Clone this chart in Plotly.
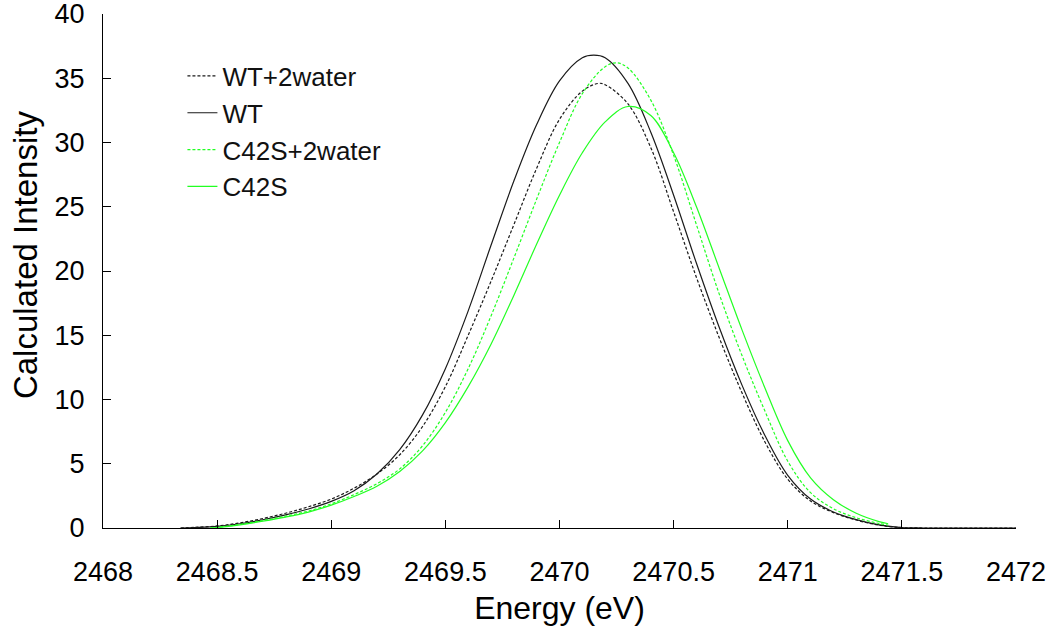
import plotly.graph_objects as go

# ---- data ----
wt_x = [2468.34, 2468.4, 2468.5, 2468.6, 2468.7, 2468.8, 2468.9, 2469.0, 2469.1, 2469.2,
        2469.3, 2469.4, 2469.5, 2469.6, 2469.7, 2469.8, 2469.9, 2470.0, 2470.1, 2470.15,
        2470.2, 2470.3, 2470.4, 2470.5, 2470.6, 2470.7, 2470.8, 2470.9, 2471.0, 2471.1,
        2471.2, 2471.3, 2471.4, 2471.5, 2471.6, 2472.0]
wt_y = [0.0, 0.04, 0.13, 0.33, 0.64, 1.02, 1.48, 2.07, 2.9, 4.2,
        6.1, 8.8, 12.4, 16.9, 22.0, 27.0, 31.4, 34.8, 36.6, 36.8,
        36.6, 34.6, 30.8, 25.9, 20.6, 15.6, 11.1, 7.2, 4.1, 2.25,
        1.25, 0.65, 0.24, 0.03, 0.0, 0.0]

wt2w_x = [2468.34, 2468.4, 2468.5, 2468.6, 2468.7, 2468.8, 2468.9, 2469.0, 2469.1, 2469.2,
          2469.3, 2469.4, 2469.5, 2469.6, 2469.7, 2469.8, 2469.9, 2470.0, 2470.1, 2470.17,
          2470.2, 2470.3, 2470.4, 2470.5, 2470.6, 2470.7, 2470.8, 2470.9, 2471.0, 2471.1,
          2471.2, 2471.3, 2471.4, 2471.5, 2471.6, 2472.0]
wt2w_y = [0.0, 0.05, 0.16, 0.40, 0.74, 1.15, 1.65, 2.25, 3.1, 4.2,
          5.7, 7.9, 11.0, 15.0, 19.2, 23.6, 28.0, 31.8, 34.0, 34.6,
          34.5, 33.0, 29.6, 24.6, 19.5, 14.8, 10.5, 6.7, 3.8, 2.1,
          1.2, 0.62, 0.22, 0.03, 0.0, 0.0]

c42s2w_x = [2468.47, 2468.5, 2468.6, 2468.7, 2468.8, 2468.9, 2469.0, 2469.1, 2469.2, 2469.3,
            2469.4, 2469.5, 2469.6, 2469.7, 2469.8, 2469.9, 2470.0, 2470.1, 2470.2, 2470.25,
            2470.3, 2470.4, 2470.5, 2470.6, 2470.7, 2470.8, 2470.9, 2471.0, 2471.1, 2471.2,
            2471.3, 2471.4, 2471.44]
c42s2w_y = [0.0, 0.05, 0.28, 0.58, 0.92, 1.32, 1.88, 2.6, 3.45, 4.6,
            6.4, 9.0, 12.4, 16.5, 21.0, 25.6, 30.0, 33.8, 35.9, 36.2,
            35.8, 33.3, 29.0, 23.6, 18.2, 13.4, 9.1, 5.2, 2.75, 1.5,
            0.8, 0.35, 0.23]

c42s_x = [2468.47, 2468.5, 2468.6, 2468.7, 2468.8, 2468.9, 2469.0, 2469.1, 2469.2, 2469.3,
          2469.4, 2469.5, 2469.6, 2469.7, 2469.8, 2469.9, 2470.0, 2470.1, 2470.2, 2470.3,
          2470.4, 2470.5, 2470.6, 2470.7, 2470.8, 2470.9, 2471.0, 2471.1, 2471.2, 2471.3,
          2471.4, 2471.44]
c42s_y = [0.0, 0.04, 0.25, 0.53, 0.85, 1.24, 1.78, 2.45, 3.25, 4.4,
          6.0, 8.2, 11.0, 14.3, 18.1, 22.1, 25.9, 29.2, 31.6, 32.8,
          32.1, 29.2, 25.0, 20.2, 15.4, 10.9, 6.8, 3.9, 2.2, 1.15,
          0.5, 0.33]

x_ticks = [2468, 2468.5, 2469, 2469.5, 2470, 2470.5, 2471, 2471.5, 2472]
x_tick_text = ["2468", "2468.5", "2469", "2469.5", "2470", "2470.5", "2471", "2471.5", "2472"]
y_ticks = [0, 5, 10, 15, 20, 25, 30, 35, 40]

FONT = "Liberation Sans, Arial, sans-serif"
BLACK = "#1a1a1a"
GREEN = "#22ff22"
DOT = "3px,2px"
LINE_SHAPE = dict(shape="spline", smoothing=1.0)

fig = go.Figure()
fig.add_trace(go.Scatter(x=wt2w_x, y=wt2w_y, mode="lines", name="WT+2water",
                         line=dict(color=BLACK, width=1.2, dash=DOT, **LINE_SHAPE)))
fig.add_trace(go.Scatter(x=wt_x, y=wt_y, mode="lines", name="WT",
                         line=dict(color=BLACK, width=1.2, **LINE_SHAPE)))
fig.add_trace(go.Scatter(x=c42s2w_x, y=c42s2w_y, mode="lines", name="C42S+2water",
                         line=dict(color=GREEN, width=1.2, dash=DOT, **LINE_SHAPE)))
fig.add_trace(go.Scatter(x=c42s_x, y=c42s_y, mode="lines", name="C42S",
                         line=dict(color=GREEN, width=1.2, **LINE_SHAPE)))

fig.update_layout(
    width=1050, height=631,
    margin=dict(l=103, r=34, t=14, b=103),
    paper_bgcolor="white", plot_bgcolor="white",
    font=dict(family=FONT, color="black"),
    showlegend=True,
    legend=dict(x=0.087, y=0.925, xanchor="left", yanchor="top",
                bgcolor="rgba(0,0,0,0)", font=dict(size=26, color="#111"),
                tracegroupgap=0, itemwidth=30),
    annotations=[dict(text="Calculated Intensity", textangle=-90,
                      xref="paper", yref="paper", x=-0.0854, y=0.531,
                      xanchor="center", yanchor="middle", showarrow=False,
                      font=dict(size=33, family=FONT, color="black"))],
)
fig.update_xaxes(range=[2468, 2472], tickvals=x_ticks, ticktext=x_tick_text,
                 ticks="inside", ticklen=8, tickcolor="black", tickwidth=1,
                 showline=True, linecolor="black", linewidth=1,
                 showgrid=False, zeroline=False, automargin=False,
                 ticklabeloverflow="allow", ticklabelstandoff=20,
                 tickfont=dict(size=27, family=FONT, color="black"),
                 title=dict(text="Energy (eV)", font=dict(size=32, family=FONT, color="black"), standoff=10))
fig.update_yaxes(range=[0, 40], tickvals=y_ticks,
                 ticks="inside", ticklen=8, tickcolor="black", tickwidth=1,
                 showline=True, linecolor="black", linewidth=1,
                 showgrid=False, zeroline=False, automargin=False,
                 ticklabeloverflow="allow", ticklabelstandoff=12,
                 tickfont=dict(size=27, family=FONT, color="black"))

fig.write_html("out.html",
               config={"displayModeBar": False},
               post_script="document.body.style.margin='0';document.body.style.overflow='hidden';")
